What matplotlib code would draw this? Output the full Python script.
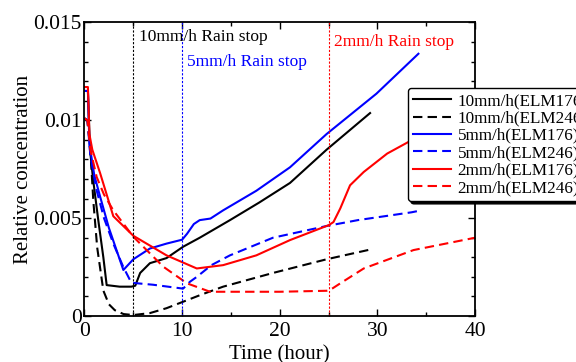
import matplotlib
matplotlib.use("Agg")
import matplotlib.pyplot as plt
from matplotlib.ticker import MultipleLocator, FixedLocator, FixedFormatter

# ---------------- data ----------------
t_10_176 = [0, 0.35, 0.56, 0.9, 1.41, 1.93, 2.27, 3.6, 4.8, 5.2, 5.7, 6.7, 8.4,
            10.1, 11.8, 14.9, 17.9, 21.05, 24.8, 29.25]
c_10_176 = [0.0115, 0.0115, 0.0085, 0.0069, 0.0049, 0.0030, 0.00158, 0.0015, 0.0015,
            0.00155, 0.0022, 0.0027, 0.00296, 0.00354, 0.0040, 0.0049, 0.0058, 0.0068,
            0.0085, 0.01037]

t_10_246 = [0, 0.3, 0.6, 0.9, 1.3, 1.93, 2.5, 3.1, 4.0, 5.0, 6.7, 8.4, 10.1, 12.0,
            14.2, 19.3, 24.8, 29.3]
c_10_246 = [0.0101, 0.0100, 0.0085, 0.0059, 0.0035, 0.0013, 0.0006, 0.0003, 0.0001,
            0.00005, 0.00015, 0.0004, 0.00073, 0.0011, 0.0015, 0.0022, 0.0029, 0.0034]

t_5_176 = [0, 0.35, 0.5, 1.0, 1.6, 2.5, 3.98, 5.0, 6.7, 8.4, 10.0, 10.5, 11.2, 11.8,
           12.9, 14.2, 17.6, 21.05, 24.8, 29.9, 34.2]
c_5_176 = [0.0115, 0.0115, 0.0088, 0.0072, 0.0061, 0.0045, 0.00235, 0.0029, 0.00345,
           0.0037, 0.0039, 0.0042, 0.0047, 0.0049, 0.00498, 0.0054, 0.0064, 0.0076,
           0.0093, 0.01136, 0.0134]

t_5_246 = [0, 0.3, 0.6, 1.2, 2.0, 2.95, 3.98, 4.8, 7.0, 10.1, 10.8, 11.5, 13.0, 14.9,
           19.3, 24.8, 28.0, 33.5, 34.5]
c_5_246 = [0.0101, 0.0100, 0.0082, 0.0065, 0.0050, 0.0037, 0.0025, 0.0017, 0.0016,
           0.0014, 0.00175, 0.0020, 0.0026, 0.0031, 0.0040, 0.0046, 0.0049, 0.0053, 0.0054]

t_2_176 = [0, 0.35, 0.5, 0.8, 1.6, 2.95, 5.0, 8.4, 11.5, 14.2, 17.6, 21.05, 25.0, 25.5,
           26.2, 27.2, 28.6, 31.0, 33.2, 36.0, 40.0]
c_2_176 = [0.0117, 0.0117, 0.0093, 0.0085, 0.0073, 0.0051, 0.0041, 0.0031, 0.00243,
           0.0026, 0.0031, 0.00388, 0.00464, 0.0048, 0.0055, 0.00668, 0.00736, 0.0083,
           0.0089, 0.0095, 0.0102]

t_2_246 = [0, 0.3, 0.6, 1.25, 2.0, 2.95, 5.0, 8.07, 10.5, 12.86, 20.0, 24.8, 25.15,
           26.2, 28.6, 33.7, 40.0]
c_2_246 = [0.0101, 0.0100, 0.0085, 0.0071, 0.0062, 0.0054, 0.00405, 0.00252, 0.00167,
           0.00124, 0.00124, 0.00129, 0.00133, 0.00167, 0.00243, 0.00337, 0.0040]

stop_times = [5, 10, 25]
stop_labels = ["10mm/h Rain stop", "5mm/h Rain stop", "2mm/h Rain stop"]
stop_colors = ["black", "blue", "red"]
stop_text_pos = [(5.6, 0.01425), (10.5, 0.01297), (25.6, 0.0140)]

y_ticks = [0, 0.005, 0.01, 0.015]
y_tick_labels = ["0", "0.005", "0.01", "0.015"]

# ---------------- plot ----------------
plt.rcParams["font.family"] = ["Liberation Serif", "DejaVu Serif"]

fig = plt.figure(figsize=(5.76, 3.62), dpi=100)
ax = fig.add_axes([0.1467, 0.127, 0.678, 0.811])

dash = (0, (4.5, 2.5))
lw = 1.5
ax.plot(t_10_176, c_10_176, color="black", lw=lw, label="10mm/h(ELM176)")
ax.plot(t_10_246, c_10_246, color="black", lw=lw, ls=dash, label="10mm/h(ELM246)")
ax.plot(t_5_176, c_5_176, color="blue", lw=lw, label="5mm/h(ELM176)")
ax.plot(t_5_246, c_5_246, color="blue", lw=lw, ls=dash, label="5mm/h(ELM246)")
ax.plot(t_2_176, c_2_176, color="red", lw=lw, label="2mm/h(ELM176)")
ax.plot(t_2_246, c_2_246, color="red", lw=lw, ls=dash, label="2mm/h(ELM246)")

for xs, lab, col, (tx, ty) in zip(stop_times, stop_labels, stop_colors, stop_text_pos):
    ax.axvline(xs, color=col, lw=0.8, ls=(0, (2, 1.5)))
    ax.text(tx, ty, lab, color=col, fontsize=12.5, va="center", ha="left")

ax.set_xlim(0, 40)
ax.set_ylim(0, 0.015)
ax.xaxis.set_major_locator(MultipleLocator(10))
ax.xaxis.set_minor_locator(MultipleLocator(5))
ax.yaxis.set_major_locator(FixedLocator(y_ticks))
ax.yaxis.set_major_formatter(FixedFormatter(y_tick_labels))
ax.yaxis.set_minor_locator(MultipleLocator(0.001))
ax.tick_params(which="both", direction="in", top=True, right=True, labelsize=15.5)
ax.tick_params(which="major", length=5, width=1)
ax.tick_params(which="minor", length=3, width=1)
ax.tick_params(axis="y", pad=2)
ax.tick_params(axis="x", pad=4)
for sp in ax.spines.values():
    sp.set_linewidth(1.3)

ax.set_xlabel("Time (hour)", fontsize=15, labelpad=3)
ax.set_ylabel("Relative concentration", fontsize=15, labelpad=0)

leg = ax.legend(loc="upper left", bbox_to_anchor=(408 / 576, 1 - 88 / 362),
                bbox_transform=fig.transFigure, fontsize=12.3, frameon=True,
                fancybox=True, shadow={"color": "black", "alpha": 1, "ox": 2, "oy": -2},
                handlelength=2.2, handletextpad=0.4, labelspacing=0.08,
                borderpad=0.3, borderaxespad=0)
leg.get_frame().set_edgecolor("black")
leg.get_frame().set_linewidth(1.0)
leg.get_frame().set_alpha(1)

fig.savefig("out.png", dpi=100)
